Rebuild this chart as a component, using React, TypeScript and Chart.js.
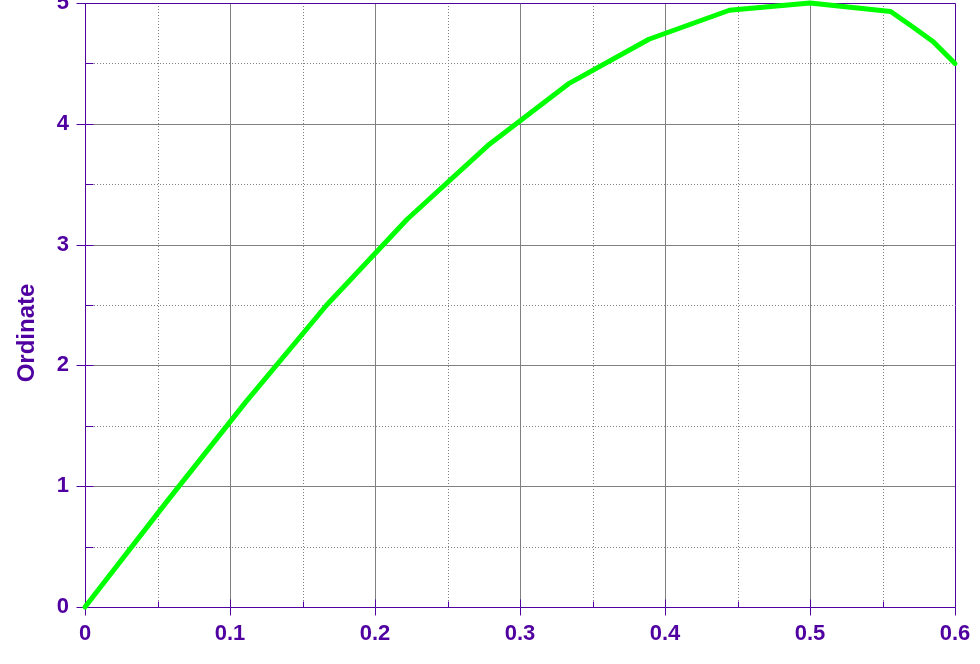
import React, { useEffect, useRef } from "react";
import { Chart, registerables } from "chart.js";

Chart.register(...registerables);

// Data
const X_VALUES = [0, 0.0556, 0.1111, 0.1667, 0.2222, 0.2778, 0.3333, 0.3889, 0.4444, 0.5, 0.5556, 0.57, 0.585, 0.6];
const Y_VALUES = [0, 0.86, 1.7, 2.5, 3.21, 3.82, 4.33, 4.7, 4.94, 5.0, 4.93, 4.81, 4.68, 4.5];

const X_MAJOR = [0, 0.1, 0.2, 0.3, 0.4, 0.5, 0.6];
const X_MINOR = [0.05, 0.15, 0.25, 0.35, 0.45, 0.55];
const Y_MAJOR = [0, 1, 2, 3, 4, 5];
const Y_MINOR = [0.5, 1.5, 2.5, 3.5, 4.5];
const X_TICK_LABELS = ["0", "0.1", "0.2", "0.3", "0.4", "0.5", "0.6"];
const Y_TICK_LABELS = ["0", "1", "2", "3", "4", "5"];
const Y_TITLE = "Ordinate";

const AXIS_COLOR = "#5000a0";
const GRID_COLOR = "#808080";
const LINE_COLOR = "#00ff00";
const FONT = "'Liberation Sans', Arial, sans-serif";

const gridPlugin = {
  id: "gridFrame",
  beforeDatasetsDraw(chart: any) {
    const { ctx, chartArea, scales } = chart;
    const { left, right, top, bottom } = chartArea;
    const xs = scales.x;
    const ys = scales.y;
    const al = (v: number) => Math.round(v) + 0.5;
    ctx.save();
    ctx.lineWidth = 1;
    // minor dotted grid
    ctx.strokeStyle = GRID_COLOR;
    ctx.setLineDash([1, 2]);
    ctx.beginPath();
    X_MINOR.forEach((v) => {
      const p = al(xs.getPixelForValue(v));
      ctx.moveTo(p, top);
      ctx.lineTo(p, bottom);
    });
    Y_MINOR.forEach((v) => {
      const p = al(ys.getPixelForValue(v));
      ctx.moveTo(left, p);
      ctx.lineTo(right, p);
    });
    ctx.stroke();
    // major solid grid
    ctx.setLineDash([]);
    ctx.beginPath();
    X_MAJOR.slice(1, -1).forEach((v) => {
      const p = al(xs.getPixelForValue(v));
      ctx.moveTo(p, top);
      ctx.lineTo(p, bottom);
    });
    Y_MAJOR.slice(1, -1).forEach((v) => {
      const p = al(ys.getPixelForValue(v));
      ctx.moveTo(left, p);
      ctx.lineTo(right, p);
    });
    ctx.stroke();
    // frame
    ctx.strokeStyle = AXIS_COLOR;
    ctx.beginPath();
    ctx.rect(left + 0.5, top + 0.5, right - left, bottom - top);
    ctx.stroke();
    // ticks
    ctx.beginPath();
    const bx = bottom + 0.5;
    const ly = left + 0.5;
    X_MAJOR.forEach((v) => {
      const p = al(xs.getPixelForValue(v));
      ctx.moveTo(p, bx - 8);
      ctx.lineTo(p, bx + 8);
    });
    X_MINOR.forEach((v) => {
      const p = al(xs.getPixelForValue(v));
      ctx.moveTo(p, bx - 6);
      ctx.lineTo(p, bx);
    });
    Y_MAJOR.forEach((v) => {
      const p = al(ys.getPixelForValue(v));
      ctx.moveTo(ly - 9, p);
      ctx.lineTo(ly + 8, p);
    });
    Y_MINOR.forEach((v) => {
      const p = al(ys.getPixelForValue(v));
      ctx.moveTo(ly, p);
      ctx.lineTo(ly + 8, p);
    });
    ctx.stroke();
    ctx.restore();
  },
  afterDraw(chart: any) {
    const { ctx } = chart;
    ctx.save();
    ctx.translate(27, chart.height / 2 + 1);
    ctx.rotate(-Math.PI / 2);
    ctx.font = `bold 24px ${FONT}`;
    ctx.fillStyle = AXIS_COLOR;
    ctx.textAlign = "center";
    ctx.textBaseline = "middle";
    ctx.fillText(Y_TITLE, 0, 0);
    ctx.restore();
  },
};

export default function App() {
  const ref = useRef<HTMLCanvasElement | null>(null);
  useEffect(() => {
    if (!ref.current) return;
    const chart = new Chart(ref.current, {
      type: "line",
      data: {
        datasets: [
          {
            data: X_VALUES.map((x, i) => ({ x, y: Y_VALUES[i] })),
            borderColor: LINE_COLOR,
            backgroundColor: LINE_COLOR,
            borderWidth: 5,
            borderCapStyle: "round",
            borderJoinStyle: "round",
            pointRadius: 0,
            tension: 0,
            fill: false,
            clip: false as any,
          },
        ],
      },
      options: {
        animation: false,
        responsive: false,
        maintainAspectRatio: false,
        layout: { padding: { top: 3, right: 25, left: 0, bottom: 0 } },
        plugins: {
          legend: { display: false },
          tooltip: { enabled: false },
          title: { display: false },
        },
        scales: {
          x: {
            type: "linear",
            min: 0,
            max: 0.6,
            afterBuildTicks: (s: any) => {
              s.ticks = X_MAJOR.map((v) => ({ value: v }));
            },
            afterFit: (s: any) => {
              s.height = 57;
              s.paddingLeft = 0;
              s.paddingRight = 0;
            },
            grid: { display: false, drawTicks: false },
            border: { display: false },
            ticks: {
              color: AXIS_COLOR,
              font: { family: FONT, size: 22, weight: "bold" },
              padding: 14,
              maxRotation: 0,
              autoSkip: false,
              callback: (_v: any, i: number) => X_TICK_LABELS[i],
            },
          },
          y: {
            type: "linear",
            min: 0,
            max: 5,
            afterBuildTicks: (s: any) => {
              s.ticks = Y_MAJOR.map((v) => ({ value: v }));
            },
            afterFit: (s: any) => {
              s.width = 85;
              s.paddingTop = 0;
              s.paddingBottom = 0;
            },
            grid: { display: false, drawTicks: false },
            border: { display: false },
            ticks: {
              color: AXIS_COLOR,
              font: { family: FONT, size: 22, weight: "bold" },
              padding: 16,
              autoSkip: false,
              callback: (_v: any, i: number) => Y_TICK_LABELS[i],
            },
          },
        },
      },
      plugins: [gridPlugin],
    });
    return () => chart.destroy();
  }, []);
  return (
    <div style={{ position: "fixed", left: 0, top: 0, width: 980, height: 664, background: "#fff" }}>
      <canvas ref={ref} width={980} height={664} style={{ display: "block", width: 980, height: 664 }} />
    </div>
  );
}
